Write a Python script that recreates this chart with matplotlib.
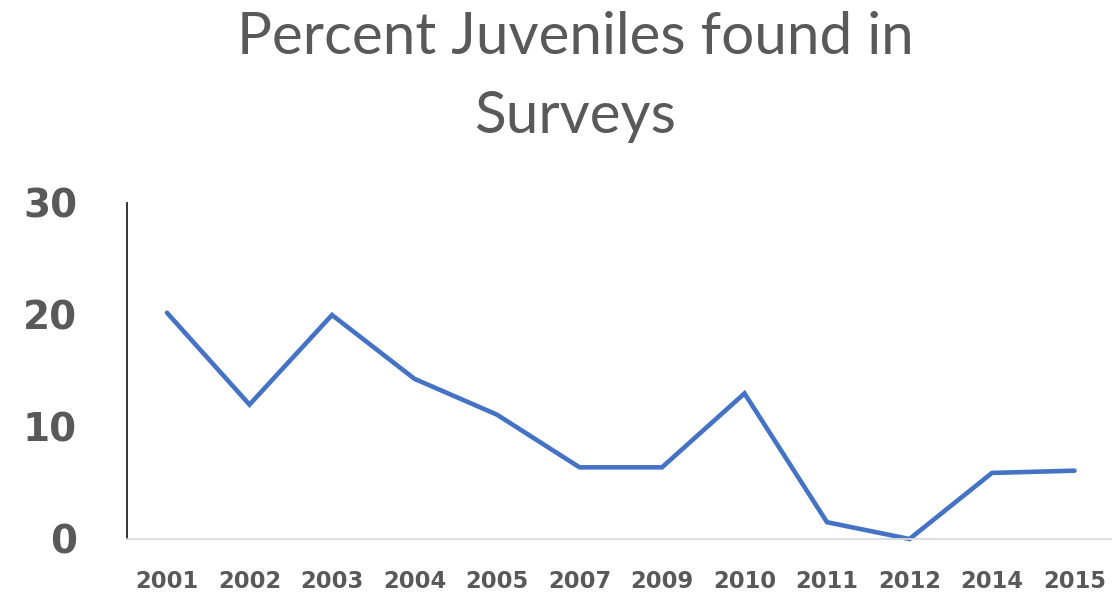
import matplotlib
matplotlib.use("Agg")
import matplotlib.pyplot as plt

years = ["2001", "2002", "2003", "2004", "2005", "2007",
         "2009", "2010", "2011", "2012", "2014", "2015"]
pct_juveniles = [20.2, 12.0, 20.0, 14.3, 11.1, 6.4, 6.4, 13.0, 1.5, 0.0, 5.9, 6.1]
y_ticks = [0, 10, 20, 30]

W, H, DPI = 1112, 596, 100
fig = plt.figure(figsize=(W / DPI, H / DPI), dpi=DPI)
fig.patch.set_facecolor("white")

# axes box in pixel coordinates
left, right, top, bottom = 127, 1112, 203, 539
ax = fig.add_axes([left / W, 1 - bottom / H, (right - left) / W, (bottom - top) / H])

x = list(range(len(years)))
ax.plot(x, pct_juveniles, color="#4472C4", linewidth=3.3,
        solid_joinstyle="miter", solid_capstyle="round", clip_on=False)

step = 82.5
ax.set_xlim(-(167 - left) / step, (right - 167) / step)
ax.set_ylim(0, 30)

ax.set_xticks(x)
ax.set_xticklabels(years)
ax.set_yticks(y_ticks)
ax.set_yticklabels([str(v) for v in y_ticks])

text_color = "#595959"
ax.tick_params(axis="x", length=0, pad=22, labelsize=16.3, labelcolor=text_color)
ax.tick_params(axis="y", length=0, pad=36, labelsize=28, labelcolor=text_color)
for lab in ax.get_xticklabels() + ax.get_yticklabels():
    lab.set_fontweight("bold")
    lab.set_fontfamily("DejaVu Sans")

for s in ("top", "right"):
    ax.spines[s].set_visible(False)
ax.spines["left"].set_color("#262626")
ax.spines["left"].set_linewidth(1.3)
ax.spines["bottom"].set_color("#D9D9D9")
ax.spines["bottom"].set_linewidth(1.3)

fig.text(575 / W, 1 - 38 / H, "Percent Juveniles found in", ha="center", va="center",
         fontsize=42, color=text_color, fontfamily="Lato")
fig.text(575 / W, 1 - 116 / H, "Surveys", ha="center", va="center",
         fontsize=42, color=text_color, fontfamily="Lato")

fig.savefig("out.png", dpi=DPI, facecolor="white")
